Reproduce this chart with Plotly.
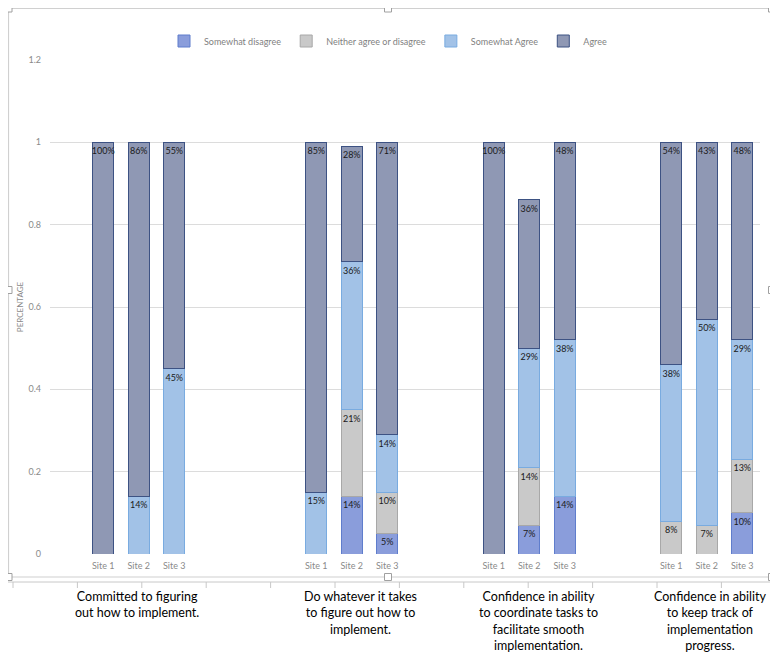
import plotly.graph_objects as go

# ---------------- data ----------------
sites = ["Site 1", "Site 2", "Site 3"]
groups = [
    "Committed to figuring<br>out how to implement.",
    "Do whatever it takes<br>to figure out how to<br>implement.",
    "Confidence in ability<br>to coordinate tasks to<br>facilitate smooth<br>implementation.",
    "Confidence in ability<br>to keep track of<br>implementation<br>progress.",
]
# slot positions of the 12 bars on the category axis (blank categories between groups)
slots = [0, 1, 2, 6, 7, 8, 11, 12, 13, 16, 17, 18]
tick_labels = sites * 4

somewhat_disagree = [0, 0, 0,    0, 0.14, 0.05,   0, 0.07, 0.14,   0, 0, 0.10]
neither           = [0, 0, 0,    0, 0.21, 0.10,   0, 0.14, 0,      0.08, 0.07, 0.13]
somewhat_agree    = [0, 0.14, 0.45,  0.15, 0.36, 0.14,  0, 0.29, 0.38,  0.38, 0.50, 0.29]
agree             = [1.00, 0.86, 0.55,  0.85, 0.28, 0.71,  1.00, 0.36, 0.48,  0.54, 0.43, 0.48]

y_ticks = [0, 0.2, 0.4, 0.6, 0.8, 1.0, 1.2]
y_tick_text = ["0", "0.2", "0.4", "0.6", "0.8", "1", "1.2"]

series = [
    ("Somewhat disagree", somewhat_disagree, "#8a9ddb", "#5f7dcc"),
    ("Neither agree or disagree", neither, "#c9c9c9", "#a8a8a8"),
    ("Somewhat Agree", somewhat_agree, "#a2c2e7", "#79abe0"),
    ("Agree", agree, "#8f98b4", "#3d5283"),
]

FONT = "Lato"
OFF = 8  # page body margin: screen px -> figure px
W, H = 770, 647
L, R, T, B = 42, 18, 52, 101
PW, PH = W - L - R, H - T - B


def px_x(p):
    """screen x pixel -> paper coordinate"""
    return (p - OFF - L) / PW


def px_y(p):
    """screen y pixel -> paper coordinate"""
    return (H - B - (p - OFF)) / PH


fig = go.Figure()
for name, vals, fill, edge in series:
    yv = [v if v > 0 else None for v in vals]
    txt = [f"{round(v * 100)}%" if v > 0 else "" for v in vals]
    fig.add_trace(go.Bar(
        name=name, x=slots, y=yv, text=txt,
        width=0.6,
        marker=dict(color=fill, line=dict(color=edge, width=1)),
        textposition="inside", insidetextanchor="end", textangle=0,
        textfont=dict(family=FONT, size=9, color="#1a1a1a"),
        hoverinfo="skip",
    ))

# group labels below the chart
group_px = [137, 360, 538, 710]
for gx, gtxt in zip(group_px, groups):
    fig.add_annotation(
        x=px_x(gx), y=px_y(587), xref="paper", yref="paper",
        text=gtxt, showarrow=False, xanchor="center", yanchor="top",
        align="center", font=dict(family=FONT, size=12.5, color="#000000"),
    )

shapes = []
# chart frame
fl, fr, ft, fb = 8.5, 772, 8.5, 577
shapes.append(dict(type="rect", xref="paper", yref="paper",
                   x0=px_x(fl), x1=px_x(fr), y0=px_y(fb), y1=px_y(ft),
                   line=dict(color="#d0d0d0", width=1.2), layer="below"))
# selection handles
for hx, hy in [(fl, ft), (388, ft), (fr, ft), (fl, 290), (fr, 290), (fl, fb), (388, fb), (fr, fb)]:
    shapes.append(dict(type="rect", xref="paper", yref="paper",
                       x0=px_x(hx - 3.5), x1=px_x(hx + 3.5), y0=px_y(hy + 3.5), y1=px_y(hy - 3.5),
                       line=dict(color="#a0a0a0", width=1), fillcolor="white"))
# table line with ticks under the chart
shapes.append(dict(type="line", xref="paper", yref="paper",
                   x0=px_x(8), x1=px_x(778), y0=px_y(582), y1=px_y(582),
                   line=dict(color="#c8c8c8", width=1)))
for k in range(12):
    tx = 13 + 64.4 * k
    shapes.append(dict(type="line", xref="paper", yref="paper",
                       x0=px_x(tx), x1=px_x(tx), y0=px_y(582), y1=px_y(588),
                       line=dict(color="#c8c8c8", width=1)))

fig.update_layout(
    width=W, height=H,
    margin=dict(l=L, r=R, t=T, b=B),
    barmode="stack",
    plot_bgcolor="white", paper_bgcolor="white",
    font=dict(family=FONT, color="#7f7f7f"),
    showlegend=True,
    legend=dict(orientation="h", x=px_x(388), xanchor="center", y=px_y(41), yanchor="middle",
                font=dict(family=FONT, size=9, color="#7f7f7f"),
                itemwidth=30, traceorder="normal", bgcolor="rgba(0,0,0,0)"),
    uniformtext=dict(minsize=9, mode="show"),
    shapes=shapes,
    xaxis=dict(range=[-1.5, 18.5], tickvals=slots, ticktext=tick_labels,
               showgrid=False, zeroline=False, showline=False, ticks="",
               ticklabelstandoff=5,
               tickfont=dict(family=FONT, size=9, color="#8a8a8a")),
    yaxis=dict(range=[0, 1.2], tickvals=y_ticks, ticktext=y_tick_text,
               showgrid=True, gridcolor="#dcdcdc", gridwidth=1, zeroline=False,
               showline=False, ticks="", ticklabelstandoff=8,
               tickfont=dict(family=FONT, size=9, color="#8a8a8a"),
               title=dict(text="PERCENTAGE", standoff=3,
                          font=dict(family=FONT, size=8, color="#8a8a8a"))),
)

fig.write_html("out.html")
